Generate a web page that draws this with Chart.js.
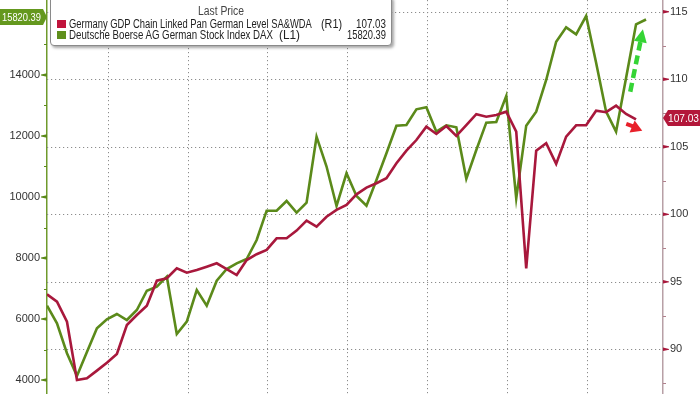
<!DOCTYPE html>
<html><head><meta charset="utf-8">
<script src="https://cdn.jsdelivr.net/npm/chart.js@4.4.1/dist/chart.umd.min.js"></script>
<style>
html,body{margin:0;padding:0;background:#fff;overflow:hidden;}
#wrap{position:relative;width:700px;height:394px;}
#legend{position:absolute;left:50px;top:-4px;width:340px;height:48px;border:1px solid #8a8a8a;border-radius:4px;background:#fff;box-shadow:2px 2px 3px rgba(0,0,0,0.35);font-family:'Liberation Sans',Arial,sans-serif;font-size:12px;color:#222;}
.lg{position:absolute;white-space:nowrap;line-height:12px;transform-origin:0 50%;}
.sw{position:absolute;width:9px;height:8px;}
</style></head>
<body><div id="wrap"><canvas id="c" width="700" height="394"></canvas><div id="legend"></div></div>
<script>
// ---- data ----
const quarters = ['2008Q2','2008Q3','2008Q4','2009Q1','2009Q2','2009Q3','2009Q4','2010Q1','2010Q2','2010Q3','2010Q4',
 '2011Q1','2011Q2','2011Q3','2011Q4','2012Q1','2012Q2','2012Q3','2012Q4','2013Q1','2013Q2','2013Q3','2013Q4',
 '2014Q1','2014Q2','2014Q3','2014Q4','2015Q1','2015Q2','2015Q3','2015Q4','2016Q1','2016Q2','2016Q3','2016Q4',
 '2017Q1','2017Q2','2017Q3','2017Q4','2018Q1','2018Q2','2018Q3','2018Q4','2019Q1','2019Q2','2019Q3','2019Q4',
 '2020Q1','2020Q2','2020Q3','2020Q4','2021Q1','2021Q2','2021Q3','2021Q4','2022Q1','2022Q2','2022Q3','2022Q4',
 '2023Q1','2023Q2'];
const daxValues = [6436,5859,4880,4131,4918,5695,5990,6164,5967,6295,6928,7060,7388,5508,5913,6951,6436,7256,7639,7826,
 7967,8590,9551,9551,9869,9486,9814,11977,11000,9705,10777,10033,9715,10557,11433,12338,12361,12875,12940,12141,
 12351,12285,10600,11541,12437,12459,13311,9957,12338,12798,13836,15092,15563,15334,15934,14400,12797,12141,13900,
 15662,15820.39];
const gdpValues = [94.07,93.53,92.04,87.73,87.85,88.42,89.01,89.65,91.8,92.54,93.23,95.08,95.26,96.0,95.67,95.87,96.12,
 96.37,95.93,95.5,96.61,97.04,97.36,98.22,98.22,98.79,99.53,99.08,99.82,100.32,100.69,101.48,101.97,102.3,102.67,
 103.78,104.71,105.5,106.49,105.95,106.54,105.8,106.61,107.41,107.23,107.36,107.6,106.12,96.0,104.71,105.26,103.73,
 105.75,106.59,106.59,107.67,107.56,108.04,107.43,107.03];
const gdpName = 'Germany GDP Chain Linked Pan German Level SA&WDA';
const daxName = 'Deutsche Boerse AG German Stock Index DAX';
const leftTicks = [4000,6000,8000,10000,12000,14000];
const leftMinorTicks = [5000,7000,9000,11000,13000,15000];
const rightTicks = [90,95,100,105,110,115];
const rightMinorTicks = [87.5,92.5,97.5,102.5,107.5,112.5];
const xGridTicks = [6.08,14.08,22.08,30.08,38.08,46.08,54.08];
// annotation arrows in data units: [xIndex, value]
const greenArrow = {from:[58.42,13452], to:[59.69,15498]};
const redArrow = {from:[58.02,106.69], to:[59.62,106.19]};

const GREEN = '#5b8a1a', RED = '#a8183c';
const FONT = "'Liberation Sans', Arial, sans-serif";

function arrowHead(ctx, x0, y0, x1, y1, len, half, color){
  const ang = Math.atan2(y1-y0, x1-x0);
  ctx.fillStyle = color;
  ctx.beginPath();
  ctx.moveTo(x1, y1);
  ctx.lineTo(x1 - len*Math.cos(ang) + half*Math.sin(ang), y1 - len*Math.sin(ang) - half*Math.cos(ang));
  ctx.lineTo(x1 - len*Math.cos(ang) - half*Math.sin(ang), y1 - len*Math.sin(ang) + half*Math.cos(ang));
  ctx.closePath(); ctx.fill();
  return [x1 - len*Math.cos(ang), y1 - len*Math.sin(ang)];
}

const deco = {
  id: 'deco',
  beforeDatasetsDraw(chart){
    const {ctx, chartArea:a, scales:{x, yR}} = chart;
    ctx.save();
    ctx.strokeStyle = '#8c8c8c'; ctx.lineWidth = 1; ctx.setLineDash([1.2,2.8]);
    rightTicks.forEach(v => {
      const y = Math.round(yR.getPixelForValue(v)) + 0.5;
      ctx.beginPath(); ctx.moveTo(a.left, y); ctx.lineTo(a.right, y); ctx.stroke();
    });
    xGridTicks.forEach(v => {
      const X = Math.round(x.getPixelForValue(v)) + 0.5;
      ctx.beginPath(); ctx.moveTo(X, a.top); ctx.lineTo(X, a.bottom); ctx.stroke();
    });
    ctx.restore();
  },
  afterDraw(chart){
    const {ctx, chartArea:a, scales:{x, yL, yR}} = chart;
    ctx.save();
    // tick marks
    ctx.fillStyle = GREEN;
    leftTicks.forEach(v => {
      const y = yL.getPixelForValue(v);
      ctx.beginPath(); ctx.moveTo(a.left, y-1.8); ctx.lineTo(a.left, y+1.8); ctx.lineTo(a.left-6, y+0.4); ctx.lineTo(a.left-6, y-0.4); ctx.closePath(); ctx.fill();
    });
    ctx.strokeStyle = GREEN; ctx.lineWidth = 1;
    leftMinorTicks.forEach(v => {
      const y = Math.round(yL.getPixelForValue(v)) + 0.5;
      ctx.beginPath(); ctx.moveTo(a.left-3, y); ctx.lineTo(a.left, y); ctx.stroke();
    });
    ctx.fillStyle = RED;
    rightTicks.forEach(v => {
      const y = yR.getPixelForValue(v);
      ctx.beginPath(); ctx.moveTo(a.right, y-1.8); ctx.lineTo(a.right, y+1.8); ctx.lineTo(a.right+6, y+0.4); ctx.lineTo(a.right+6, y-0.4); ctx.closePath(); ctx.fill();
    });
    ctx.strokeStyle = '#b0808c';
    rightMinorTicks.forEach(v => {
      const y = Math.round(yR.getPixelForValue(v)) + 0.5;
      ctx.beginPath(); ctx.moveTo(a.right, y); ctx.lineTo(a.right+3, y); ctx.stroke();
    });
    // green dashed arrow
    {
      const x0 = x.getPixelForValue(greenArrow.from[0]), y0 = yL.getPixelForValue(greenArrow.from[1]);
      const x1 = x.getPixelForValue(greenArrow.to[0]), y1 = yL.getPixelForValue(greenArrow.to[1]);
      const base = arrowHead(ctx, x0, y0, x1, y1, 13, 6.5, '#35d435');
      ctx.strokeStyle = '#35d435'; ctx.lineWidth = 4.5; ctx.setLineDash([9,5]);
      ctx.beginPath(); ctx.moveTo(x0, y0); ctx.lineTo(base[0], base[1]); ctx.stroke();
      ctx.setLineDash([]);
    }
    // red arrow
    {
      const x0 = x.getPixelForValue(redArrow.from[0]), y0 = yR.getPixelForValue(redArrow.from[1]);
      const x1 = x.getPixelForValue(redArrow.to[0]), y1 = yR.getPixelForValue(redArrow.to[1]);
      const base = arrowHead(ctx, x0, y0, x1, y1, 11, 6.5, '#e8202a');
      ctx.strokeStyle = '#e8202a'; ctx.lineWidth = 4;
      ctx.beginPath(); ctx.moveTo(x0, y0); ctx.lineTo(base[0]+1*Math.sign(x1-x0), base[1]); ctx.stroke();
    }
    // value boxes
    ctx.font = "11px " + FONT; ctx.textBaseline = 'middle';
    {
      const v = daxValues[daxValues.length-1];
      const y = Math.round(yL.getPixelForValue(v)) - 2;
      ctx.fillStyle = '#64981e';
      ctx.beginPath(); ctx.moveTo(0, y-8); ctx.lineTo(a.left-4, y-8); ctx.lineTo(a.left, y); ctx.lineTo(a.left-4, y+8); ctx.lineTo(0, y+8); ctx.closePath(); ctx.fill();
      ctx.fillStyle = '#fff'; ctx.textAlign = 'left';
      ctx.fillText(v.toFixed(2), 2, y+0.5, 39);
    }
    {
      const v = gdpValues[gdpValues.length-1];
      const y = Math.round(yR.getPixelForValue(v)) - 1;
      ctx.fillStyle = '#b3173a';
      ctx.beginPath(); ctx.moveTo(a.right, y); ctx.lineTo(a.right+5, y-8); ctx.lineTo(700, y-8); ctx.lineTo(700, y+8); ctx.lineTo(a.right+5, y+8); ctx.closePath(); ctx.fill();
      ctx.fillStyle = '#fff'; ctx.textAlign = 'left';
      ctx.fillText(v.toFixed(2), a.right+5, y+0.5, 31);
    }
    ctx.restore();
  }
};

const chart = new Chart(document.getElementById('c'), {
  type: 'line',
  data: {
    datasets: [
      {label: gdpName, data: gdpValues.map((v,i)=>({x:i, y:v})), yAxisID:'yR', borderColor: RED, borderWidth: 2.6, pointRadius: 0, tension: 0},
      {label: daxName, data: daxValues.map((v,i)=>({x:i, y:v})), yAxisID:'yL', borderColor: GREEN, borderWidth: 2.6, pointRadius: 0, tension: 0}
    ]
  },
  options: {
    responsive: false, animation: false, devicePixelRatio: 1,
    layout: {padding: 0},
    plugins: {legend: {display:false}, tooltip: {enabled:false}},
    scales: {
      x: {type:'linear', display:false, min:0, max:61.7},
      yL: {position:'left', min:3541, max:16459,
        afterBuildTicks: s => { s.ticks = leftTicks.map(v=>({value:v})); },
        afterFit: s => { s.width = 47; s.paddingTop = 0; s.paddingBottom = 0; },
        grid: {display:false, drawTicks:false},
        border: {display:true, color:'#6f9a2c', width:1.5},
        ticks: {padding:7, color:'#333', font:{family:FONT, size:11}, callback: v => String(v)}
      },
      yR: {position:'right', min:86.69, max:115.87,
        afterBuildTicks: s => { s.ticks = rightTicks.map(v=>({value:v})); },
        afterFit: s => { s.width = 37; s.paddingTop = 0; s.paddingBottom = 0; },
        grid: {display:false, drawTicks:false},
        border: {display:true, color:'#b8a0a6', width:1.5},
        ticks: {padding:7, color:'#333', font:{family:FONT, size:11}, callback: v => String(v)}
      }
    }
  },
  plugins: [deco]
});

// legend (real text), each piece fitted to its width in the reference
const lg = document.getElementById('legend');
function add(text, style, cls, fitW){
  const d = document.createElement('div'); d.className = cls || 'lg'; d.setAttribute('style', style);
  if (text !== null) d.textContent = text;
  lg.appendChild(d);
  if (fitW) { const w = d.getBoundingClientRect().width; if (w > 0) d.style.transform = 'scaleX(' + (fitW / w).toFixed(3) + ')'; }
  return d;
}
add('Last Price', 'left:147px;top:8px;color:#444', null, 46);
add(null, 'left:6px;top:23px;background:#c0143c', 'sw');
add(gdpName, 'left:18px;top:20.5px', null, 243);
add('(R1)', 'left:270px;top:20.5px', null, 21);
add(gdpValues[gdpValues.length-1].toFixed(2), 'left:305px;top:20.5px', null, 30);
add(null, 'left:6px;top:34px;background:#5f8f1c', 'sw');
add(daxName, 'left:18px;top:31.5px', null, 204);
add('(L1)', 'left:228px;top:31.5px', null, 21);
add(daxValues[daxValues.length-1].toFixed(2), 'left:296px;top:31.5px', null, 39);
</script>
</body></html>
